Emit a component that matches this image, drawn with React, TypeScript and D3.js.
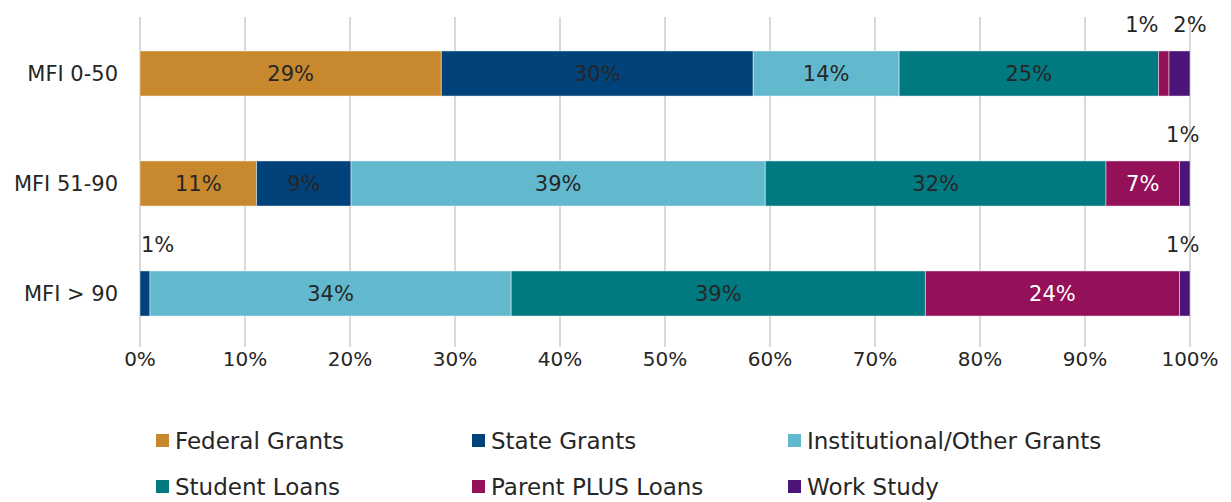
import React, { useEffect } from "react";
import * as d3 from "d3";

// categories (top to bottom)
const groups = ["MFI 0-50", "MFI 51-90", "MFI > 90"];

const seriesNames = [
  "Federal Grants",
  "State Grants",
  "Institutional/Other Grants",
  "Student Loans",
  "Parent PLUS Loans",
  "Work Study",
];

const seriesColors = ["#C8892E", "#01427A", "#62B9CE", "#007A80", "#941159", "#4B1478"];

// share of aid (%) per group, in series order
const federalGrants = [28.7, 11.1, 0];
const stateGrants = [29.7, 9.0, 0.95];
const institutionalGrants = [13.9, 39.45, 34.4];
const studentLoans = [24.7, 32.45, 39.45];
const parentPlusLoans = [1.0, 7.0, 24.2];
const workStudy = [2.0, 1.0, 1.0];

const xTicks = [0, 10, 20, 30, 40, 50, 60, 70, 80, 90, 100];

const W = 1231;
const H = 502;
const FONT = "'DejaVu Sans', sans-serif";

export default function App() {
  useEffect(() => {
    document.body.style.margin = "0";
  }, []);

  const values = [federalGrants, stateGrants, institutionalGrants, studentLoans, parentPlusLoans, workStudy];

  const x = d3.scaleLinear().domain([0, 100]).range([140, 1190]);
  const y = d3.scaleBand().domain(groups).range([18.5, 348.5]).paddingInner(0.59).paddingOuter(0.295);

  const rows = groups.map((g, gi) => {
    const table: Record<string, number> = {};
    seriesNames.forEach((s, si) => (table[s] = values[si][gi]));
    return { group: g, ...table };
  });
  const stacked = d3.stack<any>().keys(seriesNames)(rows);

  // small segments get their label above the bar
  const smallLabel = (gi: number, si: number, x0: number, x1: number) => {
    if (gi === 0 && si === 4) return { x: x0, anchor: "end" };
    if (gi === 0 && si === 5) return { x: x1, anchor: "middle" };
    if (si === 1) return { x: x0 + 1, anchor: "start" };
    return { x: (x0 + x1) / 2 - 2, anchor: "middle" };
  };

  const legendCols = [156, 472, 788];
  const legendRows = [441, 487];

  return (
    <svg width={W} height={H} style={{ display: "block", background: "#fff" }} fontFamily={FONT}>
      {xTicks.map((t) => (
        <line key={t} x1={x(t)} x2={x(t)} y1={17} y2={347} stroke="#D9D9D9" strokeWidth={2} />
      ))}
      {stacked.map((layer, si) =>
        layer.map((d, gi) => {
          const v = d[1] - d[0];
          if (v <= 0) return null;
          const x0 = x(d[0]);
          const x1 = x(d[1]);
          const by = y(groups[gi])!;
          const bh = y.bandwidth();
          const label = `${Math.round(v)}%`;
          const inside = v >= 3;
          const lp = inside ? { x: (x0 + x1) / 2, anchor: "middle" } : smallLabel(gi, si, x0, x1);
          return (
            <g key={`${si}-${gi}`}>
              <rect
                x={x0}
                y={by}
                width={x1 - x0}
                height={bh}
                fill={seriesColors[si]}
                stroke="#ffffff"
                strokeOpacity={0.45}
                strokeWidth={1}
              />
              <text
                x={lp.x}
                y={inside ? by + bh / 2 : by - 26}
                textAnchor={lp.anchor as any}
                dominantBaseline="central"
                fontSize={21}
                fill={inside && si === 4 ? "#ffffff" : "#262626"}
              >
                {label}
              </text>
            </g>
          );
        })
      )}
      {groups.map((g) => (
        <text
          key={g}
          x={118}
          y={y(g)! + y.bandwidth() / 2}
          textAnchor="end"
          dominantBaseline="central"
          fontSize={21}
          fill="#262626"
        >
          {g}
        </text>
      ))}
      {xTicks.map((t) => (
        <text key={t} x={x(t)} y={359} textAnchor="middle" dominantBaseline="central" fontSize={20} fill="#262626">
          {`${t}%`}
        </text>
      ))}
      {seriesNames.map((s, i) => {
        const lx = legendCols[i % 3];
        const ly = legendRows[Math.floor(i / 3)];
        return (
          <g key={s}>
            <rect x={lx} y={ly - 7} width={13} height={13} fill={seriesColors[i]} />
            <text x={lx + 19} y={ly} dominantBaseline="central" fontSize={23} fill="#262626">
              {s}
            </text>
          </g>
        );
      })}
    </svg>
  );
}
